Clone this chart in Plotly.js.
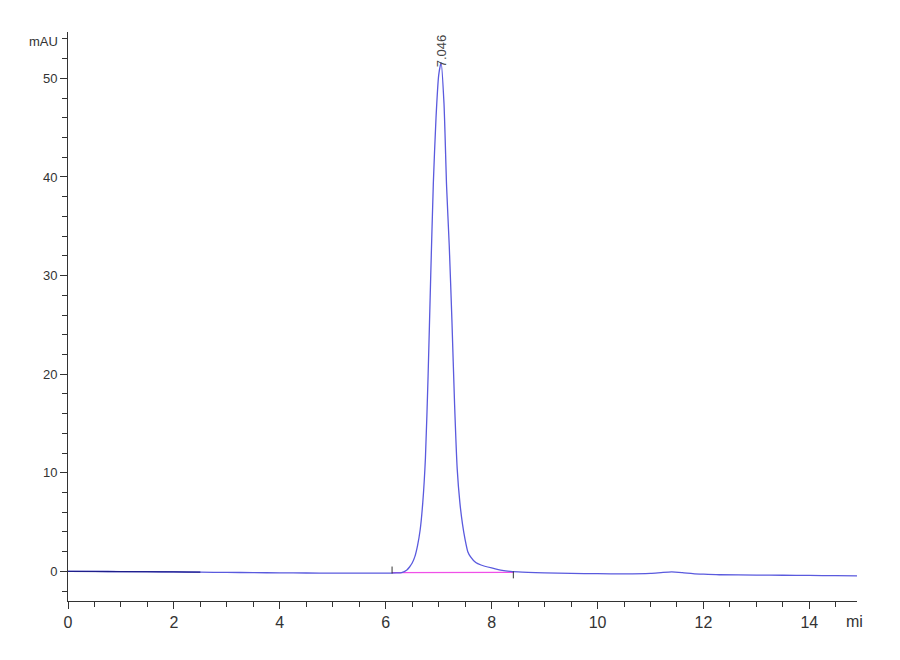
<!DOCTYPE html>
<html>
<head>
<meta charset="utf-8">
<script src="https://cdn.plot.ly/plotly-3.0.1.min.js"></script>
<style>
  html, body { margin: 0; padding: 0; background: #fff; }
  #chrom { width: 900px; height: 660px; }
</style>
</head>
<body>
<div id="chrom"></div>
<script>
// Chromatogram signal (time in min, absorbance in mAU)
const timeMin = [
  0.0, 0.5, 1.0, 1.5, 2.0, 2.5, 3.0, 3.5, 4.0, 4.5, 5.0, 5.5, 6.0, 6.2, 6.3,
  6.4, 6.45, 6.5, 6.55, 6.6, 6.65, 6.7, 6.75, 6.8, 6.85, 6.9, 6.95, 7.0, 7.046,
  7.1, 7.15, 7.2, 7.25, 7.3, 7.35, 7.4, 7.45, 7.5, 7.55, 7.6, 7.7, 7.8, 8.0,
  8.2, 8.5, 9.0, 9.5, 10.0, 10.5, 11.0, 11.2, 11.4, 11.6, 11.8, 12.0, 12.3,
  13.0, 13.5, 14.0, 14.5, 14.9
];
const signalMAU = [
  0.0, 0.0, -0.02, -0.03, -0.05, -0.08, -0.1, -0.12, -0.15, -0.16, -0.17, -0.18, -0.18, -0.15, -0.12,
  0.15, 0.45, 0.85, 1.5, 2.6, 4.2, 7.0, 11.5, 19.8, 30.0, 39.5, 46.0, 50.3, 51.6,
  47.5, 39.0, 33.0, 25.5, 17.0, 10.4, 7.0, 4.8, 3.2, 2.0, 1.5, 0.9, 0.65, 0.35,
  0.1, -0.05, -0.15, -0.2, -0.23, -0.25, -0.2, -0.12, -0.05, -0.12, -0.22, -0.28, -0.34,
  -0.37, -0.39, -0.41, -0.43, -0.45
];
// first stretch of the trace drawn darker in the reference
const darkUntil = 2.9;

// integration baseline of the peak
const baseX = [6.12, 8.41];
const baseY = [-0.12, -0.1];
// start / end integration marks
const markX = [6.12, 8.41];
const markY = [0.14, -0.35];

// peak label
const peakTime = 7.046;
const peakLabel = "7.046";

const axisFont = "Liberation Sans Narrow, Arial Narrow, Liberation Sans, Arial, sans-serif";

const darkX = timeMin.filter(t => t <= darkUntil);
const darkY = signalMAU.slice(0, darkX.length);

const traces = [
  {
    x: baseX, y: baseY,
    type: "scatter", mode: "lines",
    line: { color: "#f050e8", width: 1.2 },
    hoverinfo: "skip",
  },
  {
    x: timeMin, y: signalMAU,
    type: "scatter", mode: "lines",
    line: { color: "#5a5ade", width: 1.3, shape: "spline", smoothing: 0.6 },
    name: "Signal",
  },
  {
    x: darkX, y: darkY,
    type: "scatter", mode: "lines",
    line: { color: "#1e1e8a", width: 1.2 },
    hoverinfo: "skip",
  },
  {
    x: markX, y: markY,
    type: "scatter", mode: "markers",
    marker: { symbol: "line-ns", size: 5, line: { color: "#333", width: 1 } },
    hoverinfo: "skip",
  },
];

const layout = {
  width: 900,
  height: 660,
  margin: { t: 32, l: 68, r: 43, b: 59 },
  paper_bgcolor: "#ffffff",
  plot_bgcolor: "#ffffff",
  showlegend: false,
  xaxis: {
    range: [0, 14.9],
    dtick: 2,
    showline: true,
    linecolor: "#333",
    linewidth: 1,
    showgrid: false,
    zeroline: false,
    ticks: "outside",
    ticklen: 7,
    tickcolor: "#333",
    tickfont: { family: axisFont, size: 16, color: "#333" },
    minor: { dtick: 0.5, ticks: "outside", ticklen: 5, tickcolor: "#333", showgrid: false },
  },
  yaxis: {
    range: [-3, 54.7],
    dtick: 10,
    showline: true,
    linecolor: "#333",
    linewidth: 1,
    showgrid: false,
    zeroline: false,
    ticks: "outside",
    ticklen: 7,
    tickcolor: "#333",
    tickfont: { family: axisFont, size: 13, color: "#333" },
    minor: { dtick: 2, ticks: "outside", ticklen: 5, tickcolor: "#333", showgrid: false },
  },
  annotations: [
    {
      text: "mAU", xref: "paper", x: 0, xanchor: "right", xshift: -8,
      yref: "y", y: 53.7, yanchor: "middle", showarrow: false,
      font: { family: axisFont, size: 13, color: "#333" },
    },
    {
      text: "mi", xref: "x", x: 14.65, xanchor: "left",
      yref: "paper", y: 0, yanchor: "top", yshift: -10, showarrow: false,
      font: { family: axisFont, size: 16, color: "#333" },
    },
    {
      text: peakLabel, xref: "x", x: peakTime, xanchor: "center",
      yref: "y", y: 52.75, yanchor: "middle", textangle: -90, showarrow: false,
      font: { family: axisFont, size: 13, color: "#444" },
    },
  ],
};

Plotly.newPlot("chrom", traces, layout, { displayModeBar: false, staticPlot: true });
</script>
</body>
</html>
